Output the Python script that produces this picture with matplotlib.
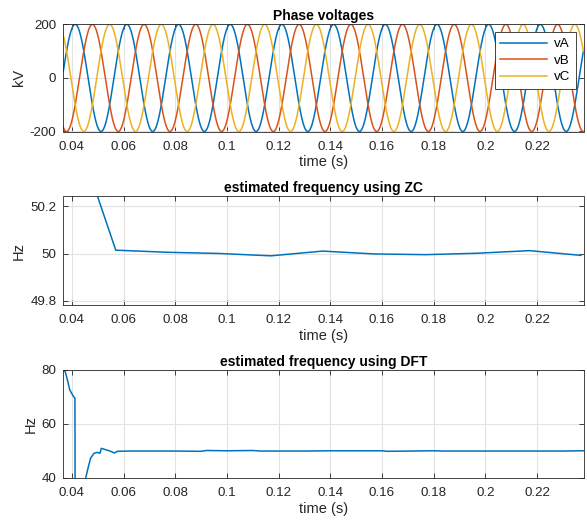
import numpy as np
import matplotlib
matplotlib.use("Agg")
import matplotlib.pyplot as plt

plt.rcParams['font.family'] = ['Liberation Sans', 'DejaVu Sans']
plt.rcParams['axes.unicode_minus'] = False

# phase voltages (kV): 50 Hz, 200 kV peak, vA peak seen near t = 0.0413 s
v_amp = 200
v_freq = 50
vA_peak_t = 0.0413
phase_shift_deg = [0, -120, 120]
phase_names = ["vA", "vB", "vC"]
t_start, t_end = 0.0367, 0.238

# zero-crossing frequency estimate (one point per cycle)
zc_t = [0.037, 0.057, 0.077, 0.097, 0.117, 0.137, 0.157, 0.177, 0.197, 0.217, 0.237]
zc_f = [50.66, 50.015, 50.006, 50.001, 49.991, 50.011, 49.999, 49.996, 50.002, 50.013, 49.993]

# DFT frequency estimate
dft_t = [0.0367, 0.0374, 0.0383, 0.0392, 0.0403, 0.0411, 0.0412, 0.0413, 0.0440, 0.0454,
         0.0463, 0.0473, 0.0486, 0.0499, 0.0509, 0.0514, 0.0531, 0.0550, 0.0565, 0.0576,
         0.0620, 0.0700, 0.0800, 0.0900, 0.0920, 0.1000, 0.1100, 0.1130, 0.1200, 0.1300,
         0.1400, 0.1600, 0.1620, 0.1800, 0.1830, 0.2000, 0.2200, 0.2300, 0.2380]
dft_f = [80.0, 79.5, 76.3, 72.6, 70.7, 69.6, 69.5, 20.0, 25.0, 40.0,
         43.7, 47.3, 49.1, 49.4, 49.1, 50.9, 50.4, 49.8, 49.2, 49.8,
         49.9, 49.9, 49.9, 49.8, 50.1, 50.0, 50.1, 49.9, 49.9, 49.9,
         50.0, 50.0, 49.8, 50.0, 49.9, 49.9, 49.9, 49.9, 50.0]

colors = ["#0072BD", "#D95319", "#EDB120"]
axcol = "#262626"
gridcol = "#e3e3e3"

fig = plt.figure(figsize=(5.87, 5.21), dpi=100)
W, H = 587, 521


def make_ax(top, bottom, left=63.3, right=583.5):
    return fig.add_axes([left / W, 1 - bottom / H, (right - left) / W, (bottom - top) / H])


def style(ax, title, ylabel):
    ax.set_title(title, fontsize=10, fontweight="bold", color="black", pad=3)
    ax.set_xlabel("time (s)", fontsize=10.5, color=axcol, labelpad=2)
    ax.set_ylabel(ylabel, fontsize=10.5, color=axcol, labelpad=3)
    ax.grid(True, color=gridcol, linewidth=0.8)
    ax.set_axisbelow(True)
    ax.tick_params(direction="in", top=True, right=True, labelsize=9.6,
                   colors=axcol, length=3.5, width=0.6)
    ax.tick_params(axis="x", pad=6.5)
    ax.tick_params(axis="y", pad=5)
    for s in ax.spines.values():
        s.set_color(axcol)
        s.set_linewidth(0.6)
    ax.set_xlim(t_start, t_end)
    ax.set_xticks([0.04, 0.06, 0.08, 0.1, 0.12, 0.14, 0.16, 0.18, 0.2, 0.22])
    ax.set_xticklabels(["0.04", "0.06", "0.08", "0.1", "0.12", "0.14", "0.16", "0.18", "0.2", "0.22"])


# Phase voltages
ax1 = make_ax(24.3, 131.5)
t = np.linspace(t_start, t_end, 3000)
for name, sh, c in zip(phase_names, phase_shift_deg, colors):
    v = v_amp * np.cos(2 * np.pi * v_freq * (t - vA_peak_t) + np.deg2rad(sh))
    ax1.plot(t, v, color=c, linewidth=1.1, label=name)
style(ax1, "Phase voltages", "kV")
ax1.set_ylim(-200, 200)
ax1.set_yticks([-200, 0, 200])
leg = ax1.legend(loc="upper right", fontsize=9.6, handlelength=3.5, frameon=True,
                 fancybox=False, edgecolor=axcol, framealpha=1, borderaxespad=0.6,
                 labelspacing=0.32, handletextpad=0.5, borderpad=0.42)
leg.get_frame().set_linewidth(0.6)

# ZC estimate
ax2 = make_ax(196.5, 305)
ax2.plot(zc_t, zc_f, color=colors[0], linewidth=1.1)
style(ax2, "estimated frequency using ZC", "Hz")
ax2.set_ylim(49.783, 50.242)
ax2.set_yticks([49.8, 50, 50.2])
ax2.set_yticklabels(["49.8", "50", "50.2"])

# DFT estimate
ax3 = make_ax(370, 477.7)
ax3.plot(dft_t, dft_f, color=colors[0], linewidth=1.1)
style(ax3, "estimated frequency using DFT", "Hz")
ax3.set_ylim(40, 80)
ax3.set_yticks([40, 60, 80])

fig.savefig("out.png", dpi=100)
